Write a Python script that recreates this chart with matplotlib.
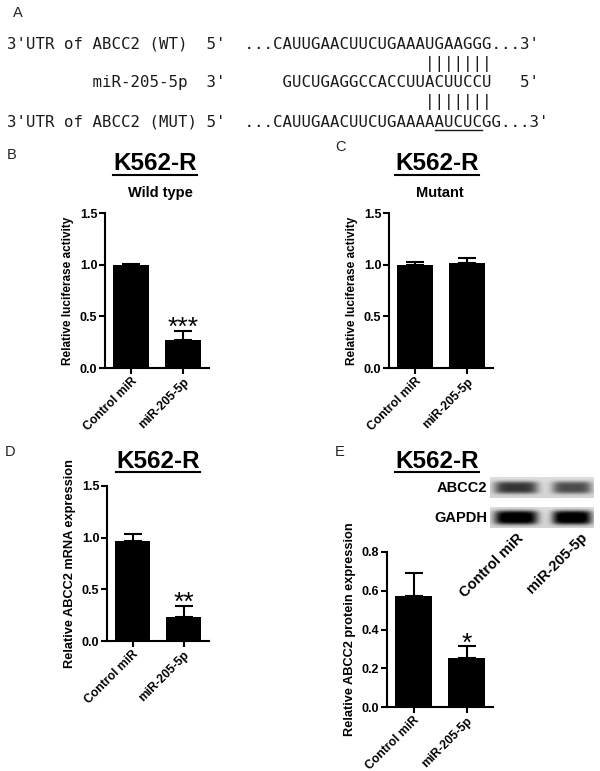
import numpy as np
import matplotlib
matplotlib.use("Agg")
import matplotlib.pyplot as plt
from matplotlib.lines import Line2D

plt.rcParams['font.family'] = ['Liberation Sans', 'DejaVu Sans']

# ---------------- data ----------------
groups = ["Control miR", "miR-205-5p"]

wt_means = [1.00, 0.27]
wt_errs = [0.01, 0.09]
wt_stars = "***"

mut_means = [1.00, 1.02]
mut_errs = [0.03, 0.04]

mrna_means = [0.97, 0.235]
mrna_errs = [0.07, 0.105]
mrna_stars = "**"

prot_means = [0.573, 0.251]
prot_errs = [0.117, 0.062]
prot_stars = "*"

luc_ticks = [0.0, 0.5, 1.0, 1.5]
prot_ticks = [0.0, 0.2, 0.4, 0.6, 0.8]

# western blot band darkness (0 = none, 1 = black)
blot_rows = ["ABCC2", "GAPDH"]
abcc2_bands = [0.68, 0.58]
gapdh_bands = [1.0, 1.0]

seq_lines = [
    "3'UTR of ABCC2 (WT)  5'  ...CAUUGAACUUCUGAAAUGAAGGG...3'",
    "         miR-205-5p  3'      GUCUGAGGCCACCUUACUUCCU   5'",
    "3'UTR of ABCC2 (MUT) 5'  ...CAUUGAACUUCUGAAAAAUCUCGG...3'",
]
pair_line = " " * 44 + "|||||||"
underline_span = (45, 50)   # character indices of the mutated (underlined) bases

W, H = 600, 771
fig = plt.figure(figsize=(W / 100, H / 100), dpi=100)


def fx(x):
    return x / W


def fy(y):
    return 1 - y / H


# ---------------- panel A: sequences ----------------
fig.text(fx(13), fy(13), "A", fontsize=10.5, ha="left", va="center", color="#222222")
mono = dict(family="DejaVu Sans Mono", fontsize=11.3, color="#1a1a1a", ha="left", va="baseline")
x0 = fx(7)
line_centers = [43, 81, 121]
seq_texts = []
for s, yc in zip(seq_lines, line_centers):
    seq_texts.append(fig.text(x0, fy(yc + 5.5), s, **mono))
for yc in [63, 102]:
    fig.text(x0, fy(yc + 4.5), pair_line, **mono)


def bar_panel(rect_px, means, errs, ticks, ylabel, ylabel_size, stars=None):
    l, t, r, b = rect_px
    ax = fig.add_axes([fx(l), fy(b), (r - l) / W, (b - t) / H])
    xpos = np.arange(len(means))
    ax.bar(xpos, means, width=0.7, color="black", zorder=2)
    ax.errorbar(xpos, means, yerr=[np.zeros(len(errs)), errs], fmt="none",
                ecolor="black", elinewidth=1.5, capsize=6.5, capthick=1.5, zorder=1)
    ax.set_xlim(-0.5, 1.5)
    ax.set_ylim(ticks[0], ticks[-1])
    ax.set_yticks(ticks)
    ax.set_yticklabels([f"{v:.1f}" for v in ticks], fontweight="bold", fontsize=9)
    ax.set_xticks(xpos)
    ax.set_xticklabels(groups, rotation=45, ha="right", rotation_mode="anchor",
                       fontweight="bold", fontsize=8.7)
    for sp in ["top", "right"]:
        ax.spines[sp].set_visible(False)
    for sp in ["left", "bottom"]:
        ax.spines[sp].set_linewidth(1.5)
    ax.tick_params(axis="both", direction="out", length=4, width=1.5, pad=1.5)
    ax.set_ylabel(ylabel, fontweight="bold", fontsize=ylabel_size, labelpad=4)
    if stars:
        top = means[1] + errs[1]
        ax.annotate(stars, xy=(1, top), xytext=(0, -3), textcoords="offset points",
                    ha="center", va="baseline", fontsize=19)
    return ax


def title(xc, yc, size=17.5):
    t = fig.text(fx(xc), fy(yc), "K562-R", fontsize=size, fontweight="bold",
                 ha="center", va="center")
    return t


# ---------------- panel B ----------------
fig.text(fx(12), fy(155), "B", fontsize=10.5, ha="center", va="center", color="#222222")
titles = [title(155, 164)]
fig.text(fx(160), fy(193), "Wild type", fontsize=10.5, fontweight="bold", ha="center", va="center")
bar_panel((105, 213, 209, 368), wt_means, wt_errs, luc_ticks,
          "Relative luciferase activity", 8.5, wt_stars)

# ---------------- panel C ----------------
fig.text(fx(340), fy(147), "C", fontsize=10.5, ha="center", va="center", color="#222222")
titles.append(title(437, 164))
fig.text(fx(440), fy(193), "Mutant", fontsize=10.5, fontweight="bold", ha="center", va="center")
bar_panel((389, 213, 493, 368), mut_means, mut_errs, luc_ticks,
          "Relative luciferase activity", 8.5)

# ---------------- panel D ----------------
fig.text(fx(10), fy(452), "D", fontsize=10.5, ha="center", va="center", color="#222222")
titles.append(title(158, 461))
bar_panel((107, 486, 209, 641), mrna_means, mrna_errs, luc_ticks,
          "Relative ABCC2 mRNA expression", 9.2, mrna_stars)

# ---------------- panel E ----------------
fig.text(fx(340), fy(452), "E", fontsize=10.5, ha="center", va="center", color="#222222")
titles.append(title(437, 461))
bar_panel((387, 552, 493, 707), prot_means, prot_errs, prot_ticks,
          "Relative ABCC2 protein expression", 9.2, prot_stars)

# western blot strips
band_centers = [0.25, 0.79]   # fraction across strip
band_halfwidth = [0.21, 0.19]
for row, (name, bands, ytop, ybot, thick) in enumerate(
        [("ABCC2", abcc2_bands, 477, 498, 0.30), ("GAPDH", gapdh_bands, 507, 528, 0.34)]):
    bax = fig.add_axes([fx(490), fy(ybot), 104 / W, (ybot - ytop) / H])
    nx, ny = 208, 42
    xs = np.linspace(0, 1, nx)[None, :]
    ys = np.linspace(0, 1, ny)[:, None]
    img = np.full((ny, nx), 0.87) - 0.04 * ys
    for c, hw, dark in zip(band_centers, band_halfwidth, bands):
        prof_x = np.exp(-np.abs((xs - c) / hw) ** 5)
        prof_y = np.exp(-np.abs((ys - 0.5) / thick) ** 4)
        img = img - dark * 0.95 * prof_x * prof_y
    img = np.clip(img, 0, 1)
    bax.imshow(img, cmap="gray", vmin=0, vmax=1, aspect="auto", interpolation="bilinear")
    bax.set_axis_off()
    fig.text(fx(487), fy((ytop + ybot) / 2), name, fontsize=10.5, fontweight="bold",
             ha="right", va="center")

fig.text(fx(521), fy(536), groups[0], fontsize=10.5, fontweight="bold", rotation=45,
         rotation_mode="anchor", ha="right", va="center")
fig.text(fx(585), fy(535), groups[1], fontsize=10.5, fontweight="bold", rotation=45,
         rotation_mode="anchor", ha="right", va="center")

# underline the titles and the mutated bases
fig.canvas.draw()
for t in titles:
    bb = t.get_window_extent()
    yline = bb.y0 + 1
    fig.add_artist(Line2D([bb.x0 / W, bb.x1 / W], [yline / H, yline / H],
                          transform=fig.transFigure, color="black", lw=1.5))

mut_text = seq_texts[2]
bb = mut_text.get_window_extent()
char_w = bb.width / len(seq_lines[2])
ux0 = bb.x0 + underline_span[0] * char_w + 0.5
ux1 = bb.x0 + underline_span[1] * char_w - 0.5
uy = H - (121 + 8.5)
fig.add_artist(Line2D([ux0 / W, ux1 / W], [uy / H, uy / H],
                      transform=fig.transFigure, color="#1a1a1a", lw=1.0))

fig.savefig("out.png", dpi=100)
